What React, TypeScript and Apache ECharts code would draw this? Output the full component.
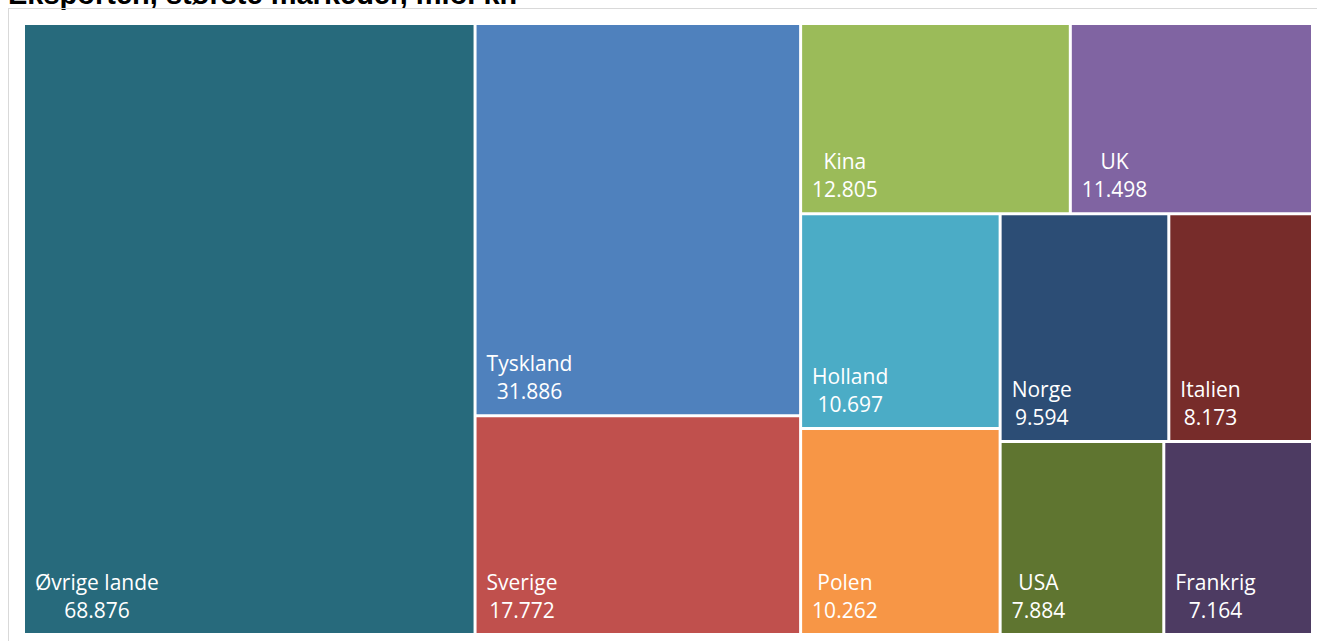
import React, { useEffect, useRef } from "react";
import * as echarts from "echarts";

const TITLE = "Eksporten, største markeder, mio. kr.";
const markets = ["Øvrige lande", "Tyskland", "Sverige", "Kina", "UK", "Holland", "Polen", "Norge", "Italien", "USA", "Frankrig"];
const values = [68876, 31886, 17772, 12805, 11498, 10697, 10262, 9594, 8173, 7884, 7164];
const colors = ["#276A7C", "#4F81BD", "#C0504D", "#9BBB59", "#8064A2", "#4BACC6", "#F79646", "#2C4D75", "#772C2A", "#5F7530", "#4D3B62"];

const fmt = (n: number) => String(n).replace(/\B(?=(\d{3})+(?!\d))/g, ".");

const LABEL_FONT = "'Open Sans', 'Noto Sans', sans-serif";
const LABEL_SIZE = 21;

function textWidth(s: string): number {
  const c = document.createElement("canvas").getContext("2d");
  if (!c) return s.length * LABEL_SIZE * 0.55;
  c.font = `${LABEL_SIZE}px ${LABEL_FONT}`;
  return c.measureText(s).width;
}

export default function App() {
  const ref = useRef<HTMLDivElement>(null);
  useEffect(() => {
    if (!ref.current) return;
    const chart = echarts.init(ref.current, undefined, { renderer: "svg" });
    chart.setOption({
      animation: false,
      series: [
        {
          type: "treemap",
          left: 25,
          top: 25,
          width: 1286,
          height: 608,
          squareRatio: 1,
          roam: false,
          nodeClick: false,
          breadcrumb: { show: false },
          emphasis: { disabled: true },
          itemStyle: { gapWidth: 3, borderWidth: 0, borderColor: "#fff" },
          levels: [{ itemStyle: { gapWidth: 3, borderWidth: 0 } }, { itemStyle: { borderWidth: 0 } }],
          label: {
            show: true,
            position: "insideBottomLeft",
            distance: 10,
            padding: 0,
            align: "center",
            color: "#fff",
            fontFamily: LABEL_FONT,
            fontSize: LABEL_SIZE,
            lineHeight: 28,
            formatter: (p: any) => `${p.name}\n${fmt(p.value)}`,
          },
          data: markets.map((name, i) => ({
            name,
            value: values[i],
            itemStyle: { color: colors[i] },
            label: {
              offset: [Math.max(textWidth(name), textWidth(fmt(values[i]))) / 2, 1],
            },
          })),
        },
      ],
    });
    return () => chart.dispose();
  }, []);

  return (
    <div style={{ position: "fixed", left: 0, top: 0, width: 1317, height: 641, overflow: "hidden", background: "#fff" }}>
      <div
        style={{
          position: "absolute",
          left: 8,
          top: -20,
          fontFamily: "'Liberation Sans', Arial, sans-serif",
          fontWeight: "bold",
          fontSize: 29,
          lineHeight: "29px",
          color: "#000",
          whiteSpace: "nowrap",
        }}
      >
        {TITLE}
      </div>
      <div
        style={{
          position: "absolute",
          left: 8,
          top: 8,
          width: 1340,
          height: 700,
          border: "1px solid #d9d9d9",
          boxSizing: "border-box",
        }}
      />
      <div ref={ref} style={{ position: "absolute", left: 0, top: 0, width: 1317, height: 641 }} />
    </div>
  );
}
